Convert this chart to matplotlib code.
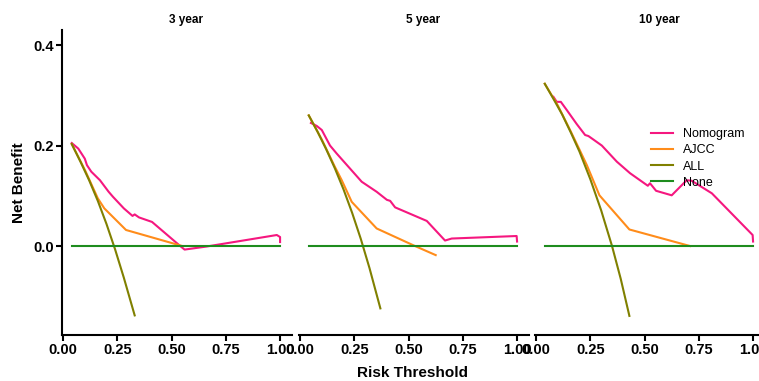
import matplotlib
matplotlib.use("Agg")
import matplotlib.pyplot as plt

plt.rcParams["font.family"] = ["Liberation Sans", "DejaVu Sans"]

PANELS = ["3 year", "5 year", "10 year"]

# 3 year
nomo3_x = [0.04, 0.07, 0.10, 0.11, 0.13, 0.17, 0.21, 0.23, 0.28, 0.32, 0.33, 0.35, 0.41, 0.54, 0.56, 0.66, 0.985, 1.0, 1.0]
nomo3_y = [0.205, 0.194, 0.174, 0.161, 0.148, 0.131, 0.108, 0.098, 0.075, 0.060, 0.063, 0.057, 0.048, 0.0, -0.007, -0.001, 0.022, 0.018, 0.008]
ajcc3_x = [0.04, 0.10, 0.16, 0.19, 0.29, 0.55]
ajcc3_y = [0.203, 0.152, 0.095, 0.075, 0.032, 0.0]
all3_x = [0.04, 0.08, 0.12, 0.16, 0.20, 0.24, 0.28, 0.33]
all3_y = [0.203, 0.168, 0.131, 0.090, 0.044, -0.007, -0.063, -0.138]

# 5 year
nomo5_x = [0.05, 0.077, 0.10, 0.138, 0.169, 0.284, 0.353, 0.40, 0.415, 0.438, 0.584, 0.668, 0.699, 0.998, 1.0]
nomo5_y = [0.245, 0.239, 0.231, 0.200, 0.184, 0.128, 0.108, 0.092, 0.090, 0.077, 0.050, 0.011, 0.015, 0.020, 0.009]
ajcc5_x = [0.04, 0.10, 0.16, 0.192, 0.238, 0.353, 0.53, 0.625]
ajcc5_y = [0.260, 0.212, 0.158, 0.131, 0.088, 0.035, 0.0, -0.018]
all5_x = [0.04, 0.08, 0.12, 0.16, 0.20, 0.24, 0.28, 0.32, 0.37]
all5_y = [0.260, 0.228, 0.193, 0.155, 0.113, 0.066, 0.014, -0.044, -0.124]

# 10 year
nomo10_x = [0.08, 0.095, 0.114, 0.141, 0.187, 0.226, 0.241, 0.264, 0.303, 0.372, 0.433, 0.515, 0.525, 0.553, 0.625, 0.694, 0.717, 0.81, 0.998, 1.0]
nomo10_y = [0.297, 0.287, 0.287, 0.271, 0.243, 0.221, 0.219, 0.212, 0.200, 0.168, 0.145, 0.120, 0.125, 0.110, 0.101, 0.131, 0.130, 0.105, 0.022, 0.009]
ajcc10_x = [0.04, 0.10, 0.16, 0.20, 0.234, 0.292, 0.43, 0.71]
ajcc10_y = [0.323, 0.280, 0.228, 0.192, 0.161, 0.101, 0.033, 0.0]
all10_x = [0.04, 0.08, 0.12, 0.16, 0.20, 0.25, 0.30, 0.35, 0.39, 0.43]
all10_y = [0.323, 0.293, 0.262, 0.226, 0.188, 0.133, 0.071, 0.0, -0.065, -0.139]

none_x = [0.04, 1.0]
none_y = [0.0, 0.0]

NOMO = "#F5177F"
AJCC = "#FF8C1A"
ALL = "#808000"
NONE = "#1E8C1E"

data = [
    (nomo3_x, nomo3_y, ajcc3_x, ajcc3_y, all3_x, all3_y),
    (nomo5_x, nomo5_y, ajcc5_x, ajcc5_y, all5_x, all5_y),
    (nomo10_x, nomo10_y, ajcc10_x, ajcc10_y, all10_x, all10_y),
]

W, H = 759, 381
fig = plt.figure(figsize=(W / 100, H / 100), dpi=100)
lefts = [62, 299, 535]
bottom = (H - 335) / H
height = 305 / H

axes = []
for i, (nx, ny, ax_, ay, lx, ly) in enumerate(data):
    ax = fig.add_axes([lefts[i] / W, bottom, 230 / W, height])
    axes.append(ax)
    ax.plot(nx, ny, color=NOMO, lw=1.5, label="Nomogram")
    ax.plot(ax_, ay, color=AJCC, lw=1.5, label="AJCC")
    ax.plot(lx, ly, color=ALL, lw=1.5, label="ALL")
    ax.plot(none_x, none_y, color=NONE, lw=1.5, label="None")

    ax.set_xlim(-0.005, 1.055)
    ax.set_ylim(-0.177, 0.43)
    ax.set_xticks([0.0, 0.25, 0.5, 0.75, 1.0])
    ax.set_xticklabels(["0.00", "0.25", "0.50", "0.75", "1.00"])
    for s in ["top", "right"]:
        ax.spines[s].set_visible(False)
    ax.spines["bottom"].set_linewidth(1.5)
    ax.spines["left"].set_linewidth(1.5)
    ax.tick_params(width=1.5, length=4, labelsize=10.5, pad=2)
    for lab in ax.get_xticklabels() + ax.get_yticklabels():
        lab.set_fontweight("bold")
    fig.text((lefts[i] + 0.54 * 230) / W, 1 - 20 / H, PANELS[i], ha="center",
             va="center", fontsize=8.5, fontweight="bold")
    if i == 0:
        ax.set_yticks([0.0, 0.2, 0.4])
        ax.set_yticklabels(["0.0", "0.2", "0.4"])
        for lab in ax.get_yticklabels():
            lab.set_fontweight("bold")
        ax.set_ylabel("Net Benefit", fontsize=11, fontweight="bold", labelpad=5)
    else:
        ax.spines["left"].set_visible(False)
        ax.set_yticks([])

axes[2].legend(loc="upper left", bbox_to_anchor=((645 - 535) / 230, (335 - 122) / 305),
               frameon=False, fontsize=9, handlelength=1.75, handletextpad=0.8,
               labelspacing=0.33, borderpad=0)

fig.text(412 / W, 1 - 373 / H, "Risk Threshold", ha="center", va="center",
         fontsize=11, fontweight="bold")

fig.savefig("out.png", dpi=100)
